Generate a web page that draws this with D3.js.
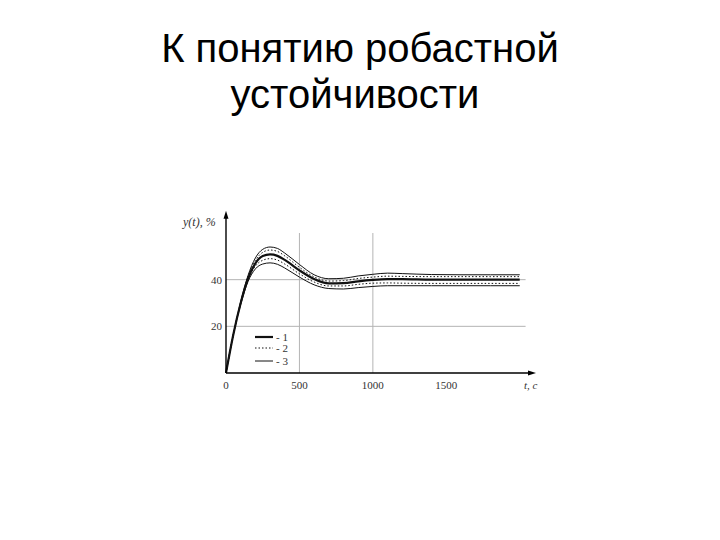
<!DOCTYPE html>
<html>
<head>
<meta charset="utf-8">
<script src="https://cdn.jsdelivr.net/npm/d3@7"></script>
<style>
  body { margin: 0; background: #fff; }
</style>
</head>
<body>
<script>
// time points, s
var times = [0, 50, 100, 150, 200, 250, 300, 350, 400, 500, 600, 700, 800, 900, 1000, 1100, 1200, 1400, 1600, 1800, 2000];

// curve 1 (nominal, thick)
var curve1 = [0, 16.5, 30, 40.5, 47, 50.1, 50.8, 50.2, 48.5, 44, 40.3, 38.4, 38.5, 39.3, 39.9, 40.2, 40.2, 40, 40, 40, 40];
// curve 2 (dotted, upper and lower)
var curve2Up = [0, 16.5, 30.3, 41.2, 48.2, 51.7, 52.7, 52.1, 50.2, 45.3, 41.2, 39.4, 39.6, 40.5, 41.1, 41.5, 41.4, 41.3, 41.3, 41.3, 41.3];
var curve2Low = [0, 16.5, 29.7, 39.8, 45.8, 48.3, 49, 48.4, 46.7, 42.5, 39, 37.3, 37.3, 38, 38.5, 38.6, 38.5, 38.4, 38.4, 38.4, 38.4];
// curve 3 (thin, upper and lower)
var curve3Up = [0, 16.5, 30.5, 41.8, 49.3, 53, 54, 53.4, 51.4, 46.5, 42.1, 40.4, 40.6, 41.6, 42.3, 42.8, 42.6, 42.2, 42.1, 42.1, 42.1];
var curve3Low = [0, 16.5, 29.3, 39.2, 44.6, 46.7, 47.2, 46.6, 45, 41.1, 37.8, 36.2, 36, 36.6, 37.1, 37.4, 37.4, 37.4, 37.4, 37.4, 37.4];

var xTicks = [0, 500, 1000, 1500];
var xGrid = [500, 1000];
var yGrid = [20, 40];
var yTickLabels = ["20", "40"];
var legendLabels = ["- 1", "- 2", "- 3"];

var svg = d3.select("body").append("svg")
    .attr("width", 720)
    .attr("height", 540);

// title
svg.append("text")
    .attr("x", 360).attr("y", 62)
    .attr("text-anchor", "middle")
    .style("font-family", "Liberation Sans, Arial, sans-serif")
    .style("font-size", "40px")
    .text("К понятию робастной");
svg.append("text")
    .attr("x", 355).attr("y", 108)
    .attr("text-anchor", "middle")
    .style("font-family", "Liberation Sans, Arial, sans-serif")
    .style("font-size", "40px")
    .text("устойчивости");

// scales
var x = d3.scaleLinear().domain([0, 2070]).range([226, 530]);
var y = d3.scaleLinear().domain([0, 60]).range([373, 233]);

var labelFont = "Liberation Serif, Times New Roman, serif";

// grid
svg.append("g").selectAll("line").data(xGrid).enter().append("line")
    .attr("x1", d => x(d)).attr("x2", d => x(d))
    .attr("y1", y(0)).attr("y2", y(60))
    .attr("stroke", "#b4b4b4").attr("stroke-width", 1);
svg.append("g").selectAll("line").data(yGrid).enter().append("line")
    .attr("x1", x(0)).attr("x2", x(2040))
    .attr("y1", d => y(d)).attr("y2", d => y(d))
    .attr("stroke", "#b4b4b4").attr("stroke-width", 1);

// curves
var line = d3.line()
    .x((d, i) => x(times[i]))
    .y(d => y(d))
    .curve(d3.curveMonotoneX);

var series = [
    { vals: curve3Up, w: 1, dash: null },
    { vals: curve3Low, w: 1, dash: null },
    { vals: curve2Up, w: 1, dash: "1.5,2" },
    { vals: curve2Low, w: 1, dash: "1.5,2" },
    { vals: curve1, w: 2.2, dash: null }
];
svg.append("g").selectAll("path").data(series).enter().append("path")
    .attr("d", d => line(d.vals))
    .attr("fill", "none")
    .attr("stroke", "#111")
    .attr("stroke-width", d => d.w)
    .attr("stroke-dasharray", d => d.dash);

// axes
svg.append("line")
    .attr("x1", x(0)).attr("x2", x(2070))
    .attr("y1", y(0)).attr("y2", y(0))
    .attr("stroke", "#000").attr("stroke-width", 1.6);
svg.append("path")
    .attr("d", `M${x(2070) + 6},${y(0)} L${x(2070) - 2},${y(0) - 2.5} L${x(2070) - 2},${y(0) + 2.5} Z`)
    .attr("fill", "#000");
svg.append("line")
    .attr("x1", x(0)).attr("x2", x(0))
    .attr("y1", y(0)).attr("y2", y(67))
    .attr("stroke", "#000").attr("stroke-width", 1.4);
svg.append("path")
    .attr("d", `M${x(0)},${y(67) - 6} L${x(0) - 2.5},${y(67) + 2} L${x(0) + 2.5},${y(67) + 2} Z`)
    .attr("fill", "#000");

// x tick labels
svg.append("g").selectAll("text").data(xTicks).enter().append("text")
    .attr("x", d => x(d)).attr("y", y(0) + 16)
    .attr("text-anchor", "middle")
    .style("font-family", labelFont)
    .style("font-size", "11px")
    .attr("fill", "#333")
    .text(d => d);

// y tick labels
svg.append("g").selectAll("text").data(yGrid).enter().append("text")
    .attr("x", x(0) - 4).attr("y", d => y(d) + 4)
    .attr("text-anchor", "end")
    .style("font-family", labelFont)
    .style("font-size", "11px")
    .attr("fill", "#333")
    .text((d, i) => yTickLabels[i]);

// axis titles
svg.append("text")
    .attr("x", 183).attr("y", 226)
    .style("font-family", labelFont)
    .style("font-style", "italic")
    .style("font-size", "12px")
    .attr("fill", "#333")
    .text("y(t), %");
svg.append("text")
    .attr("x", 524).attr("y", 389)
    .style("font-family", labelFont)
    .style("font-style", "italic")
    .style("font-size", "11px")
    .attr("fill", "#333")
    .text("t, c");

// legend
var legendY = [337, 348, 361];
var legendStyle = [
    { w: 2.2, dash: null },
    { w: 1, dash: "1.5,2" },
    { w: 1, dash: null }
];
var legend = svg.append("g").selectAll("g").data(legendLabels).enter().append("g");
legend.append("line")
    .attr("x1", 255).attr("x2", 273)
    .attr("y1", (d, i) => legendY[i]).attr("y2", (d, i) => legendY[i])
    .attr("stroke", "#111")
    .attr("stroke-width", (d, i) => legendStyle[i].w)
    .attr("stroke-dasharray", (d, i) => legendStyle[i].dash);
legend.append("text")
    .attr("x", 276).attr("y", (d, i) => legendY[i] + 4)
    .style("font-family", labelFont)
    .style("font-size", "11px")
    .attr("fill", "#333")
    .text(d => d);
</script>
</body>
</html>
